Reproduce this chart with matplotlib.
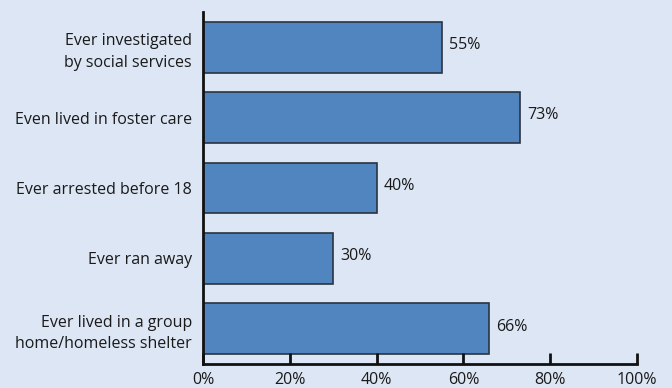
import matplotlib
matplotlib.use("Agg")
import matplotlib.pyplot as plt

categories = [
    "Ever investigated\nby social services",
    "Even lived in foster care",
    "Ever arrested before 18",
    "Ever ran away",
    "Ever lived in a group\nhome/homeless shelter",
]
values = [55, 73, 40, 30, 66]
xticks = [0, 20, 40, 60, 80, 100]
xtick_labels = ["0%", "20%", "40%", "60%", "80%", "100%"]

bg = "#dde6f4"
bar_color = "#5185bf"
edge_color = "#2b3440"
text_color = "#1a1a1a"
fs = 11.5

plt.rcParams["font.family"] = ["Open Sans", "DejaVu Sans"]

fig = plt.figure(figsize=(6.72, 3.88), dpi=100, facecolor=bg)
ax = fig.add_axes([0.302, 0.062, 0.646, 0.907], facecolor=bg)

ypos = list(range(len(categories)))
ax.barh(ypos, values, height=0.72, color=bar_color, edgecolor=edge_color, linewidth=1.2)
for y, v in zip(ypos, values):
    ax.text(v + 1.6, y - 0.03, f"{v}%", va="center", ha="left", fontsize=fs, color=text_color)

ax.set_ylim(len(categories) - 0.5, -0.5)
ax.set_xlim(0, 100)
ax.set_yticks(ypos)
ax.set_yticklabels(categories, fontsize=fs, color=text_color, ha="right", linespacing=1.45)
ax.tick_params(axis="y", length=0, pad=8)
ax.set_xticks(xticks)
ax.set_xticklabels(xtick_labels, fontsize=fs, color=text_color)
ax.tick_params(axis="x", direction="in", length=8, width=2, color="#111111", pad=6)

for s in ["top", "right"]:
    ax.spines[s].set_visible(False)
for s in ["left", "bottom"]:
    ax.spines[s].set_linewidth(2)
    ax.spines[s].set_color("#111111")

fig.savefig("out.png", dpi=100, facecolor=bg)
